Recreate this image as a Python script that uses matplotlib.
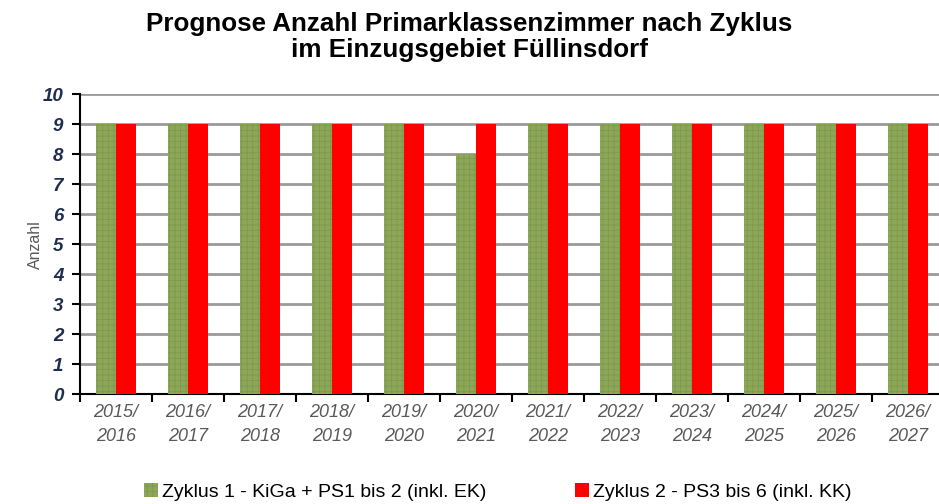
import matplotlib.pyplot as plt
import numpy as np

plt.rcParams['font.family'] = ['Liberation Sans', 'DejaVu Sans']
plt.rcParams['hatch.linewidth'] = 0.6

jahre = ["2015/\n2016", "2016/\n2017", "2017/\n2018", "2018/\n2019", "2019/\n2020", "2020/\n2021",
         "2021/\n2022", "2022/\n2023", "2023/\n2024", "2024/\n2025", "2025/\n2026", "2026/\n2027"]
zyklus1 = [9, 9, 9, 9, 9, 8, 9, 9, 9, 9, 9, 9]
zyklus2 = [9, 9, 9, 9, 9, 9, 9, 9, 9, 9, 9, 9]

fig = plt.figure(figsize=(9.39, 5.04), dpi=100)
ax = fig.add_axes([0.0852, 0.218, 0.920, 0.5952])

x = np.arange(len(jahre))
w = 0.28
ax.bar(x - w / 2, zyklus1, w, color='#8ea65a', edgecolor='#7d9a4a', hatch='+++', linewidth=0,
       label='Zyklus 1 - KiGa + PS1 bis 2 (inkl. EK)', zorder=3)
ax.bar(x + w / 2, zyklus2, w, color='#ff0000', linewidth=0,
       label='Zyklus 2 - PS3 bis 6 (inkl. KK)', zorder=3)

ax.set_xlim(-0.5, len(jahre) - 0.5)
ax.set_ylim(0, 10)
ax.set_yticks(range(0, 11))
ax.yaxis.grid(True, color='#9a9a9a', linewidth=2, zorder=0)
ax.set_axisbelow(True)

for s in ['top', 'right']:
    ax.spines[s].set_visible(False)
ax.spines['left'].set_linewidth(1.5)
ax.spines['bottom'].set_linewidth(1.5)

ax.set_xticks(np.arange(-0.5, len(jahre), 1))
ax.set_xticklabels([])
ax.set_xticks(x, minor=True)
ax.set_xticklabels(jahre, minor=True, fontsize=13, style='italic', color='#595959', linespacing=1.55)
ax.tick_params(axis='x', which='major', length=6, width=1.5, direction='out')
ax.tick_params(axis='x', which='minor', length=0, pad=7)
ax.tick_params(axis='y', length=6, width=1.5, direction='out', pad=6)
for t in ax.get_yticklabels():
    t.set_fontsize(13.5)
    t.set_fontstyle('italic')
    t.set_fontweight('bold')
    t.set_color('#1f2d4f')

ax.set_ylabel('Anzahl', fontsize=11.5, color='#595959', labelpad=0)

fig.text(0.5, 0.977, 'Prognose Anzahl Primarklassenzimmer nach Zyklus\nim Einzugsgebiet Füllinsdorf',
         ha='center', va='top', fontsize=18.7, fontweight='bold', linespacing=1.15)

fig.legend(loc='lower center', bbox_to_anchor=(0.530, -0.028), ncol=2, frameon=False,
           fontsize=14, handlelength=0.7, handleheight=0.7, handletextpad=0.2, columnspacing=4.6)

plt.savefig('out.png', dpi=100)
